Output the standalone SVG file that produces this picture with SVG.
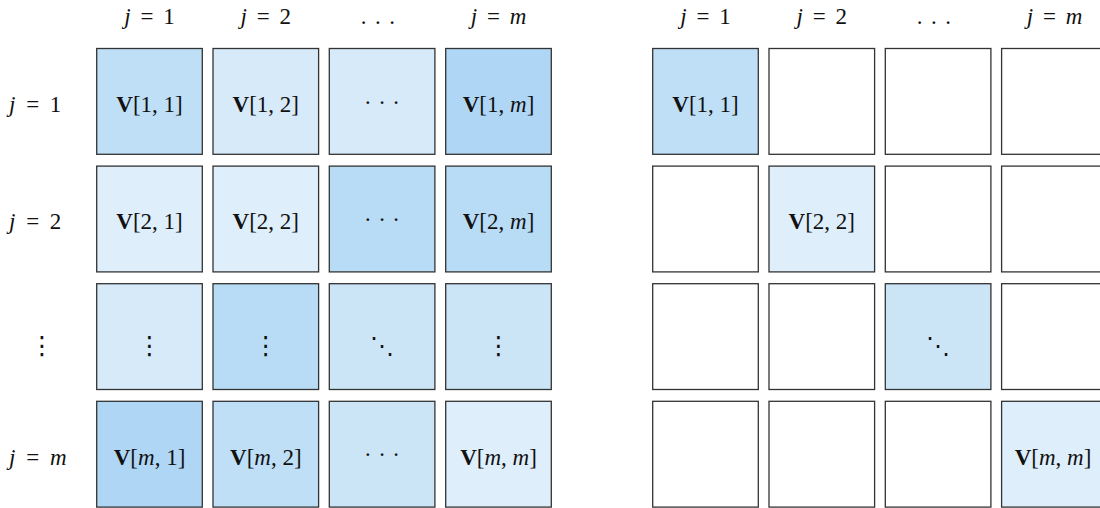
<svg xmlns="http://www.w3.org/2000/svg" width="1100" height="508" viewBox="0 0 1100 508">
  <style>
    .cell { stroke: #333; stroke-width: 1.3; }
    .t { font-family: "Liberation Serif", "DejaVu Serif", serif; font-size: 23px; fill: #111; text-anchor: middle; }
    .eq { word-spacing: 4px; }
    .lbl { font-family: "Liberation Serif", "DejaVu Serif", serif; font-size: 23px; fill: #111; word-spacing: 5px; }
    .b { font-weight: bold; font-style: normal; }
    .i { font-style: italic; }
    .vd { font-family: "DejaVu Sans", "DejaVu Serif", sans-serif; font-size: 25px; fill: #111; text-anchor: middle; }
    .dd { font-family: "DejaVu Sans", "DejaVu Serif", sans-serif; font-size: 24px; fill: #111; text-anchor: middle; }
    .cd { letter-spacing: 6.5px; }
    .c0 { fill: #ffffff; }
    .c1 { fill: #dfeefb; }
    .c2 { fill: #d7eaf9; }
    .c3 { fill: #cbe5f7; }
    .c4 { fill: #bfdff7; }
    .c5 { fill: #b8dcf5; }
    .c6 { fill: #b0d6f5; }
  </style>

  <!-- column headers -->
  <g id="headers-left">
    <text class="t eq" x="149.5" y="24"><tspan class="i">j</tspan> = 1</text>
    <text class="t eq" x="265.8" y="24"><tspan class="i">j</tspan> = 2</text>
    <text class="t" x="382.1" y="24" letter-spacing="8.5">...</text>
    <text class="t eq" x="498.5" y="24"><tspan class="i">j</tspan> = <tspan class="i">m</tspan></text>
  </g>
  <g id="headers-right">
    <text class="t eq" x="705.5" y="24"><tspan class="i">j</tspan> = 1</text>
    <text class="t eq" x="821.8" y="24"><tspan class="i">j</tspan> = 2</text>
    <text class="t" x="938.1" y="24" letter-spacing="8.5">...</text>
    <text class="t eq" x="1054.5" y="24"><tspan class="i">j</tspan> = <tspan class="i">m</tspan></text>
  </g>

  <!-- row labels -->
  <g id="row-labels">
    <text class="lbl" x="9" y="111.5"><tspan class="i">j</tspan> = 1</text>
    <text class="lbl" x="9" y="229"><tspan class="i">j</tspan> = 2</text>
    <text class="vd" x="42" y="354">⋮</text>
    <text class="lbl" x="9" y="464.5"><tspan class="i">j</tspan> = <tspan class="i">m</tspan></text>
  </g>

  <!-- full matrix V -->
  <g id="matrix-full">
    <g id="v-1-1"><rect class="cell c4" x="96.7" y="48.5" width="105.6" height="105.8"/><text class="t" x="149.5" y="111.5"><tspan class="b">V</tspan>[1, 1]</text></g>
    <g id="v-1-2"><rect class="cell c2" x="213" y="48.5" width="105.6" height="105.8"/><text class="t" x="265.8" y="111.5"><tspan class="b">V</tspan>[1, 2]</text></g>
    <g id="v-1-3"><rect class="cell c2" x="329.3" y="48.5" width="105.6" height="105.8"/><text class="t cd" x="385.3" y="109.5">···</text></g>
    <g id="v-1-m"><rect class="cell c6" x="445.7" y="48.5" width="105.6" height="105.8"/><text class="t" x="498.5" y="111.5"><tspan class="b">V</tspan>[1, <tspan class="i">m</tspan>]</text></g>

    <g id="v-2-1"><rect class="cell c1" x="96.7" y="166.1" width="105.6" height="105.8"/><text class="t" x="149.5" y="229"><tspan class="b">V</tspan>[2, 1]</text></g>
    <g id="v-2-2"><rect class="cell c1" x="213" y="166.1" width="105.6" height="105.8"/><text class="t" x="265.8" y="229"><tspan class="b">V</tspan>[2, 2]</text></g>
    <g id="v-2-3"><rect class="cell c5" x="329.3" y="166.1" width="105.6" height="105.8"/><text class="t cd" x="385.3" y="226.5">···</text></g>
    <g id="v-2-m"><rect class="cell c5" x="445.7" y="166.1" width="105.6" height="105.8"/><text class="t" x="498.5" y="229"><tspan class="b">V</tspan>[2, <tspan class="i">m</tspan>]</text></g>

    <g id="v-3-1"><rect class="cell c2" x="96.7" y="283.7" width="105.6" height="105.8"/><text class="vd" x="149.5" y="354">⋮</text></g>
    <g id="v-3-2"><rect class="cell c5" x="213" y="283.7" width="105.6" height="105.8"/><text class="vd" x="265.8" y="354">⋮</text></g>
    <g id="v-3-3"><rect class="cell c3" x="329.3" y="283.7" width="105.6" height="105.8"/><text class="dd" x="382.1" y="354">⋱</text></g>
    <g id="v-3-m"><rect class="cell c3" x="445.7" y="283.7" width="105.6" height="105.8"/><text class="vd" x="498.5" y="354">⋮</text></g>

    <g id="v-m-1"><rect class="cell c6" x="96.7" y="401.3" width="105.6" height="105.8"/><text class="t" x="149.5" y="464.5"><tspan class="b">V</tspan>[<tspan class="i">m</tspan>, 1]</text></g>
    <g id="v-m-2"><rect class="cell c4" x="213" y="401.3" width="105.6" height="105.8"/><text class="t" x="265.8" y="464.5"><tspan class="b">V</tspan>[<tspan class="i">m</tspan>, 2]</text></g>
    <g id="v-m-3"><rect class="cell c3" x="329.3" y="401.3" width="105.6" height="105.8"/><text class="t cd" x="385.3" y="462">···</text></g>
    <g id="v-m-m"><rect class="cell c1" x="445.7" y="401.3" width="105.6" height="105.8"/><text class="t" x="498.5" y="464.5"><tspan class="b">V</tspan>[<tspan class="i">m</tspan>, <tspan class="i">m</tspan>]</text></g>
  </g>

  <!-- diagonal part of V -->
  <g id="matrix-diag">
    <g id="d-1-1"><rect class="cell c4" x="652.7" y="48.5" width="105.6" height="105.8"/><text class="t" x="705.5" y="111.5"><tspan class="b">V</tspan>[1, 1]</text></g>
    <g id="d-1-2"><rect class="cell c0" x="769" y="48.5" width="105.6" height="105.8"/></g>
    <g id="d-1-3"><rect class="cell c0" x="885.3" y="48.5" width="105.6" height="105.8"/></g>
    <g id="d-1-m"><rect class="cell c0" x="1001.6" y="48.5" width="105.6" height="105.8"/></g>

    <g id="d-2-1"><rect class="cell c0" x="652.7" y="166.1" width="105.6" height="105.8"/></g>
    <g id="d-2-2"><rect class="cell c1" x="769" y="166.1" width="105.6" height="105.8"/><text class="t" x="821.8" y="229"><tspan class="b">V</tspan>[2, 2]</text></g>
    <g id="d-2-3"><rect class="cell c0" x="885.3" y="166.1" width="105.6" height="105.8"/></g>
    <g id="d-2-m"><rect class="cell c0" x="1001.6" y="166.1" width="105.6" height="105.8"/></g>

    <g id="d-3-1"><rect class="cell c0" x="652.7" y="283.7" width="105.6" height="105.8"/></g>
    <g id="d-3-2"><rect class="cell c0" x="769" y="283.7" width="105.6" height="105.8"/></g>
    <g id="d-3-3"><rect class="cell c3" x="885.3" y="283.7" width="105.6" height="105.8"/><text class="dd" x="938.1" y="354">⋱</text></g>
    <g id="d-3-m"><rect class="cell c0" x="1001.6" y="283.7" width="105.6" height="105.8"/></g>

    <g id="d-m-1"><rect class="cell c0" x="652.7" y="401.3" width="105.6" height="105.8"/></g>
    <g id="d-m-2"><rect class="cell c0" x="769" y="401.3" width="105.6" height="105.8"/></g>
    <g id="d-m-3"><rect class="cell c0" x="885.3" y="401.3" width="105.6" height="105.8"/></g>
    <g id="d-m-m"><rect class="cell c1" x="1001.6" y="401.3" width="105.6" height="105.8"/><text class="t" x="1053" y="464.5"><tspan class="b">V</tspan>[<tspan class="i">m</tspan>, <tspan class="i">m</tspan>]</text></g>
  </g>

  <!-- no connectors in this figure -->
  <g id="connectors"/>
</svg>
